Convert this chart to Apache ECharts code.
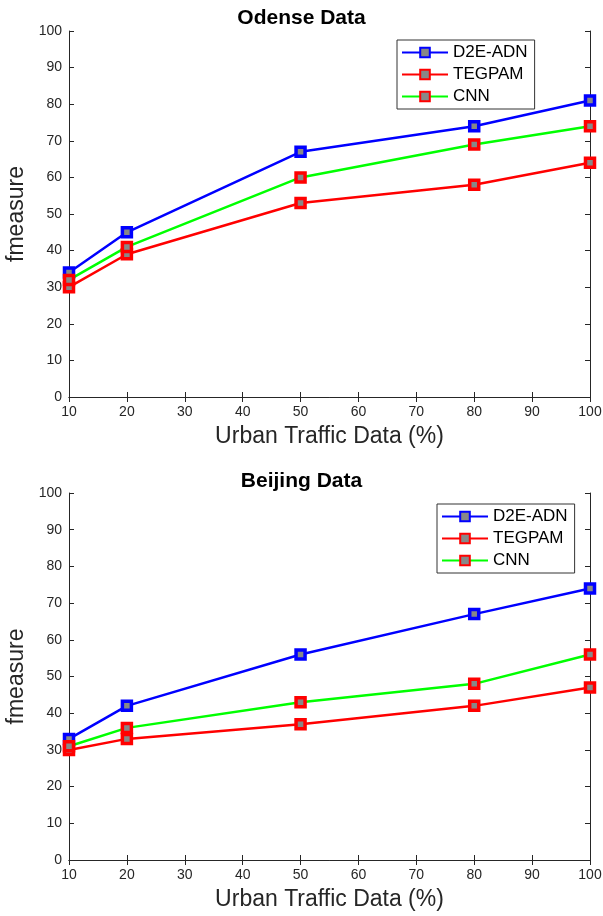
<!DOCTYPE html>
<html>
<head>
<meta charset="utf-8">
<script src="https://cdn.jsdelivr.net/npm/echarts@6/dist/echarts.min.js"></script>
<style>
  html, body { margin: 0; padding: 0; background: #fff; }
  #chart { width: 603px; height: 916px; }
</style>
</head>
<body>
<div id="chart"></div>
<script>
const xValues = [10, 20, 50, 80, 100]
const seriesNames = ['D2E-ADN', 'TEGPAM', 'CNN']

const odenseD2E = [34, 45, 67, 74, 81]
const odenseTEGPAM = [30, 39, 53, 58, 64]
const odenseCNN = [32, 41, 60, 69, 74]

const beijingD2E = [33, 42, 56, 67, 74]
const beijingTEGPAM = [30, 33, 37, 42, 47]
const beijingCNN = [31, 36, 43, 48, 56]

const titles = ['Odense Data', 'Beijing Data']
const xName = 'Urban Traffic Data (%)'
const yName = 'fmeasure'

const lineColors = ['#0000ff', '#ff0000', '#00ff00']
const markColors = ['#0000ff', '#ff0000', '#ff0000']

const font = 'Helvetica, Arial, "Liberation Sans", sans-serif'
const axisCol = '#262626'

const grids = [
  { left: 69, right: 13, top: 31, height: 366, outerBoundsMode: 'none' },
  { left: 69, right: 13, top: 493, height: 367, outerBoundsMode: 'none' },
]

function mainX(i) {
  return {
    type: 'value', gridIndex: i, min: 10, max: 100, interval: 10,
    position: 'bottom',
    name: xName, nameLocation: 'middle', nameGap: 28,
    nameTextStyle: { fontSize: 23, color: axisCol, fontFamily: font },
    axisLine: { show: true, lineStyle: { color: axisCol, width: 1 } },
    axisTick: { show: true, inside: true, length: 5, lineStyle: { color: axisCol } },
    axisLabel: { fontSize: 14, color: axisCol, fontFamily: font, margin: 8 },
    splitLine: { show: false },
  }
}
function topX(i) {
  return {
    type: 'value', gridIndex: i, min: 10, max: 100, interval: 10,
    position: 'top',
    axisLine: { show: true, lineStyle: { color: axisCol, width: 1 } },
    axisTick: { show: true, inside: true, length: 5, lineStyle: { color: axisCol } },
    axisLabel: { show: false }, splitLine: { show: false },
  }
}
function mainY(i) {
  return {
    type: 'value', gridIndex: i, min: 0, max: 100, interval: 10,
    position: 'left',
    name: yName, nameLocation: 'middle', nameGap: 37,
    nameTextStyle: { fontSize: 23, color: axisCol, fontFamily: font },
    axisLine: { show: true, lineStyle: { color: axisCol, width: 1 } },
    axisTick: { show: true, inside: true, length: 5, lineStyle: { color: axisCol } },
    axisLabel: { fontSize: 14, color: axisCol, fontFamily: font, margin: 7 },
    splitLine: { show: false },
  }
}
function rightY(i) {
  return {
    type: 'value', gridIndex: i, min: 0, max: 100, interval: 10,
    position: 'right',
    axisLine: { show: true, lineStyle: { color: axisCol, width: 1 } },
    axisTick: { show: true, inside: true, length: 5, lineStyle: { color: axisCol } },
    axisLabel: { show: false }, splitLine: { show: false },
  }
}

function mkSeries(name, vals, k, gi) {
  return {
    name, type: 'line',
    xAxisIndex: gi * 2, yAxisIndex: gi * 2,
    data: xValues.map((x, j) => [x, vals[j]]),
    symbol: 'rect', symbolSize: 9,
    lineStyle: { color: lineColors[k], width: 2.5 },
    itemStyle: { color: '#888', borderColor: markColors[k], borderWidth: 3.5 },
    emphasis: { disabled: true },
  }
}

function mkLegend(left, top) {
  return {
    data: seriesNames, orient: 'vertical', left, top,
    itemWidth: 46, itemHeight: 12, itemGap: 5,
    padding: [4, 7, 4, 4],
    borderColor: '#333', borderWidth: 1, backgroundColor: '#fff',
    textStyle: { fontSize: 17, color: '#000', fontFamily: font },
  }
}

const chart = echarts.init(document.getElementById('chart'))
chart.setOption({
  animation: false,
  title: [
    { text: titles[0], left: 'center', top: 3, textStyle: { fontSize: 21, fontWeight: 'bold', color: '#000', fontFamily: font } },
    { text: titles[1], left: 'center', top: 466, textStyle: { fontSize: 21, fontWeight: 'bold', color: '#000', fontFamily: font } },
  ],
  legend: [mkLegend(397, 40), mkLegend(437, 504)],
  grid: grids,
  xAxis: [mainX(0), topX(0), mainX(1), topX(1)],
  yAxis: [mainY(0), rightY(0), mainY(1), rightY(1)],
  series: [
    mkSeries('D2E-ADN', odenseD2E, 0, 0),
    mkSeries('TEGPAM', odenseTEGPAM, 1, 0),
    mkSeries('CNN', odenseCNN, 2, 0),
    mkSeries('D2E-ADN', beijingD2E, 0, 1),
    mkSeries('TEGPAM', beijingTEGPAM, 1, 1),
    mkSeries('CNN', beijingCNN, 2, 1),
  ],
})
</script>
</body>
</html>
